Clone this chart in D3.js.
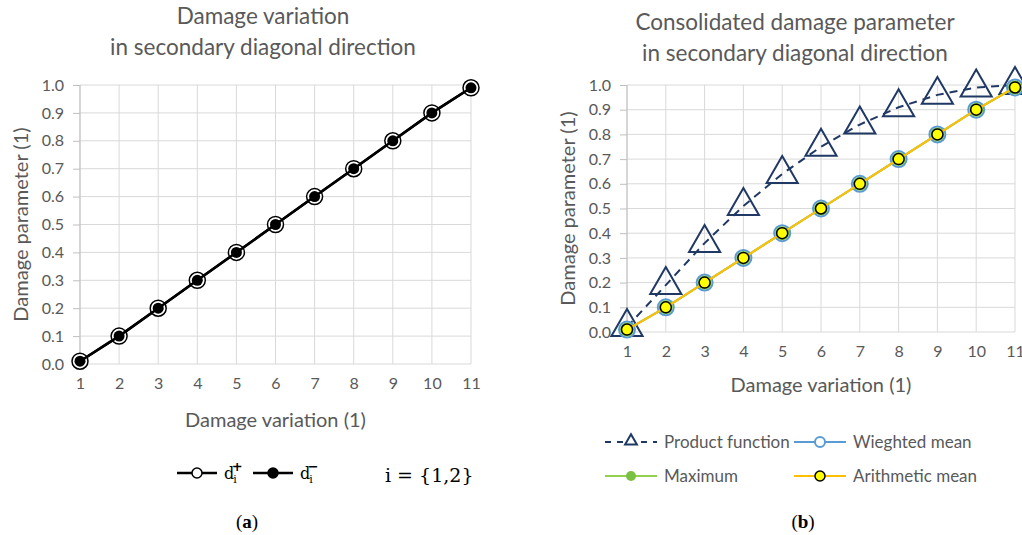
<!DOCTYPE html>
<html>
<head>
<meta charset="utf-8">
<title>Damage variation charts</title>
<script src="https://cdn.jsdelivr.net/npm/d3@7"></script>
<style>
  html,body{margin:0;background:#fff;overflow:hidden;}
  text{font-family:Lato,"Open Sans",sans-serif;fill:#595959;}
  .grid line{stroke:#d9d9d9;stroke-width:1;}
  .axis path{display:none;}
  .axis line{stroke:#bfbfbf;}
  .axis text{font-size:16px;fill:#595959;font-family:Lato,sans-serif;}
</style>
</head>
<body>
<svg id="chart" width="1022" height="535"></svg>
<script>
// data
const variation = [1, 2, 3, 4, 5, 6, 7, 8, 9, 10, 11];
const yTicks = [0, 0.1, 0.2, 0.3, 0.4, 0.5, 0.6, 0.7, 0.8, 0.9, 1.0];
const dPlus  = [0.01, 0.1, 0.2, 0.3, 0.4, 0.5, 0.6, 0.7, 0.8, 0.9, 0.99];
const dMinus = [0.01, 0.1, 0.2, 0.3, 0.4, 0.5, 0.6, 0.7, 0.8, 0.9, 0.99];
const productFn  = [0.02, 0.19, 0.36, 0.51, 0.64, 0.75, 0.84, 0.91, 0.96, 0.99, 1.0];
const weighted   = [0.01, 0.1, 0.2, 0.3, 0.4, 0.5, 0.6, 0.7, 0.8, 0.9, 0.99];
const maximum    = [0.01, 0.1, 0.2, 0.3, 0.4, 0.5, 0.6, 0.7, 0.8, 0.9, 0.99];
const arithmetic = [0.01, 0.1, 0.2, 0.3, 0.4, 0.5, 0.6, 0.7, 0.8, 0.9, 0.99];

const svg = d3.select("#chart");

function panel(o) {
  const x = d3.scaleLinear().domain([1, 11]).range([o.x0, o.x1]);
  const y = d3.scaleLinear().domain([0, 1]).range([o.y0, o.y1]);
  const g = svg.append("g");

  g.append("g").attr("class", "grid")
    .selectAll("line.h").data(yTicks).enter().append("line")
    .attr("x1", o.x0).attr("x2", o.x1)
    .attr("y1", d => y(d)).attr("y2", d => y(d));
  g.append("g").attr("class", "grid")
    .selectAll("line.v").data(variation).enter().append("line")
    .attr("x1", d => x(d)).attr("x2", d => x(d))
    .attr("y1", o.y0).attr("y2", o.y1);

  g.append("g").attr("class", "axis")
    .attr("transform", `translate(${o.x0},0)`)
    .call(d3.axisLeft(y).tickValues(yTicks).tickFormat(d3.format(".1f")).tickSize(7).tickPadding(9));
  g.append("g").attr("class", "axis")
    .attr("transform", `translate(0,${o.y0})`)
    .call(d3.axisBottom(x).tickValues(variation).tickSize(0).tickPadding(14));

  g.append("line").attr("x1", o.x0).attr("x2", o.x0).attr("y1", o.y0).attr("y2", o.y1)
    .attr("stroke", "#bfbfbf");

  o.title.forEach((t, i) => {
    g.append("text").attr("x", o.tx).attr("y", o.ty + i * 31)
      .attr("text-anchor", "middle").style("font-size", "22.5px").text(t);
  });
  g.append("text").attr("x", (o.x0 + o.x1) / 2 + o.xtdx).attr("y", o.xty)
    .attr("text-anchor", "middle").style("font-size", "20px").text("Damage variation (1)");
  g.append("text").attr("transform", `translate(${o.ytx},${(o.y0 + o.y1) / 2}) rotate(-90)`)
    .attr("text-anchor", "middle").style("font-size", "20px").text("Damage parameter (1)");
  return {g, x, y};
}

// (a)
const A = panel({x0: 80, x1: 471, y0: 364, y1: 85, tx: 263, ty: 24,
  title: ["Damage variation", "in secondary diagonal direction"], xty: 427, xtdx: 0, ytx: 28});
const lineA = d3.line().x((d, i) => A.x(variation[i])).y(d => A.y(d));
A.g.append("path").datum(dPlus).attr("d", lineA).attr("fill", "none").attr("stroke", "#000").attr("stroke-width", 2.5);
A.g.selectAll("circle.p").data(dPlus).enter().append("circle")
  .attr("cx", (d, i) => A.x(variation[i])).attr("cy", d => A.y(d)).attr("r", 8)
  .attr("fill", "#fff").attr("stroke", "#000").attr("stroke-width", 1.5);
A.g.append("path").datum(dMinus).attr("d", lineA).attr("fill", "none").attr("stroke", "#000").attr("stroke-width", 2.5);
A.g.selectAll("circle.m").data(dMinus).enter().append("circle")
  .attr("cx", (d, i) => A.x(variation[i])).attr("cy", d => A.y(d)).attr("r", 5.5)
  .attr("fill", "#000");

// legend (a)
const la = svg.append("g");
[[177, false, "+"], [253, true, "\u2212"]].forEach(([lx, filled, sign]) => {
  la.append("line").attr("x1", lx).attr("x2", lx + 40).attr("y1", 473).attr("y2", 473)
    .attr("stroke", "#000").attr("stroke-width", 2.5);
  la.append("circle").attr("cx", lx + 20).attr("cy", 473).attr("r", 5)
    .attr("fill", filled ? "#000" : "#fff").attr("stroke", "#000").attr("stroke-width", 1.5);
  const t = la.append("text").attr("x", lx + 47).attr("y", 479)
    .style("font-family", "'DejaVu Serif','Liberation Serif',serif").style("font-size", "16px").style("fill", "#000");
  t.append("tspan").text("d");
  t.append("tspan").attr("dy", 4).attr("dx", -1).style("font-size", "11px").text("i");
  t.append("tspan").attr("dy", -12).attr("dx", -5).style("font-size", "13px").style("font-weight", "bold").text(sign);
});
la.append("text").attr("x", 385).attr("y", 482)
  .style("font-family", "'DejaVu Serif','Liberation Serif',serif").style("font-size", "19px").style("fill", "#000")
  .text("i = {1,2}");

// (b)
const B = panel({x0: 627, x1: 1015, y0: 332, y1: 85, tx: 795, ty: 30,
  title: ["Consolidated damage parameter", "in secondary diagonal direction"], xty: 392, xtdx: 0, ytx: 575});
const lineB = d3.line().x((d, i) => B.x(variation[i])).y(d => B.y(d));
const tri = d3.symbol().type(d3.symbolTriangle).size(420);

B.g.append("path").datum(productFn).attr("d", lineB).attr("fill", "none")
  .attr("stroke", "#203864").attr("stroke-width", 2).attr("stroke-dasharray", "8,6");
B.g.selectAll("path.tri").data(productFn).enter().append("path")
  .attr("d", tri).attr("transform", (d, i) => `translate(${B.x(variation[i])},${B.y(d)})`)
  .attr("fill", "none").attr("stroke", "#203864").attr("stroke-width", 2);

B.g.append("path").datum(weighted).attr("d", lineB).attr("fill", "none").attr("stroke", "#5b9bd5").attr("stroke-width", 2);
B.g.selectAll("circle.w").data(weighted).enter().append("circle")
  .attr("cx", (d, i) => B.x(variation[i])).attr("cy", d => B.y(d)).attr("r", 8)
  .attr("fill", "#fff").attr("stroke", "#5b9bd5").attr("stroke-width", 2);
B.g.append("path").datum(maximum).attr("d", lineB).attr("fill", "none").attr("stroke", "#92d050").attr("stroke-width", 2);
B.g.selectAll("circle.mx").data(maximum).enter().append("circle")
  .attr("cx", (d, i) => B.x(variation[i])).attr("cy", d => B.y(d)).attr("r", 7)
  .attr("fill", "#7ac143");
B.g.append("path").datum(arithmetic).attr("d", lineB).attr("fill", "none").attr("stroke", "#ffc000").attr("stroke-width", 2);
B.g.selectAll("circle.ar").data(arithmetic).enter().append("circle")
  .attr("cx", (d, i) => B.x(variation[i])).attr("cy", d => B.y(d)).attr("r", 5.5)
  .attr("fill", "#ffff00").attr("stroke", "#000").attr("stroke-width", 1.5);

// legend (b)
const lb = svg.append("g");
const legItems = [
  {x: 605, y: 442, name: "Product function", kind: "tri"},
  {x: 794, y: 442, name: "Wieghted mean", kind: "w"},
  {x: 605, y: 476, name: "Maximum", kind: "m"},
  {x: 794, y: 476, name: "Arithmetic mean", kind: "a"}
];
legItems.forEach(it => {
  const cx = it.x + 26;
  if (it.kind === "tri") {
    lb.append("line").attr("x1", it.x).attr("x2", it.x + 52).attr("y1", it.y).attr("y2", it.y)
      .attr("stroke", "#203864").attr("stroke-width", 2).attr("stroke-dasharray", "6,6");
    lb.append("path").attr("d", d3.symbol().type(d3.symbolTriangle).size(60))
      .attr("transform", `translate(${cx},${it.y - 1})`).attr("fill", "#fff").attr("stroke", "#203864").attr("stroke-width", 2);
  } else {
    const col = it.kind === "w" ? "#5b9bd5" : it.kind === "m" ? "#92d050" : "#ffc000";
    lb.append("line").attr("x1", it.x).attr("x2", it.x + 52).attr("y1", it.y).attr("y2", it.y)
      .attr("stroke", col).attr("stroke-width", 2);
    const c = lb.append("circle").attr("cx", cx).attr("cy", it.y).attr("r", 5);
    if (it.kind === "w") c.attr("fill", "#fff").attr("stroke", "#5b9bd5").attr("stroke-width", 2);
    else if (it.kind === "m") c.attr("fill", "#7ac143");
    else c.attr("fill", "#ffff00").attr("stroke", "#000").attr("stroke-width", 1.5);
  }
  lb.append("text").attr("x", it.x + 59).attr("y", it.y + 6).style("font-size", "17px").text(it.name);
});

// captions
[[247, "a"], [803, "b"]].forEach(([cx, l]) => {
  const t = svg.append("text").attr("x", cx).attr("y", 528).attr("text-anchor", "middle")
    .style("font-family", "'Liberation Serif',serif").style("font-size", "19px").style("fill", "#000");
  t.append("tspan").text("(");
  t.append("tspan").style("font-weight", "bold").text(l);
  t.append("tspan").text(")");
});
</script>
</body>
</html>
